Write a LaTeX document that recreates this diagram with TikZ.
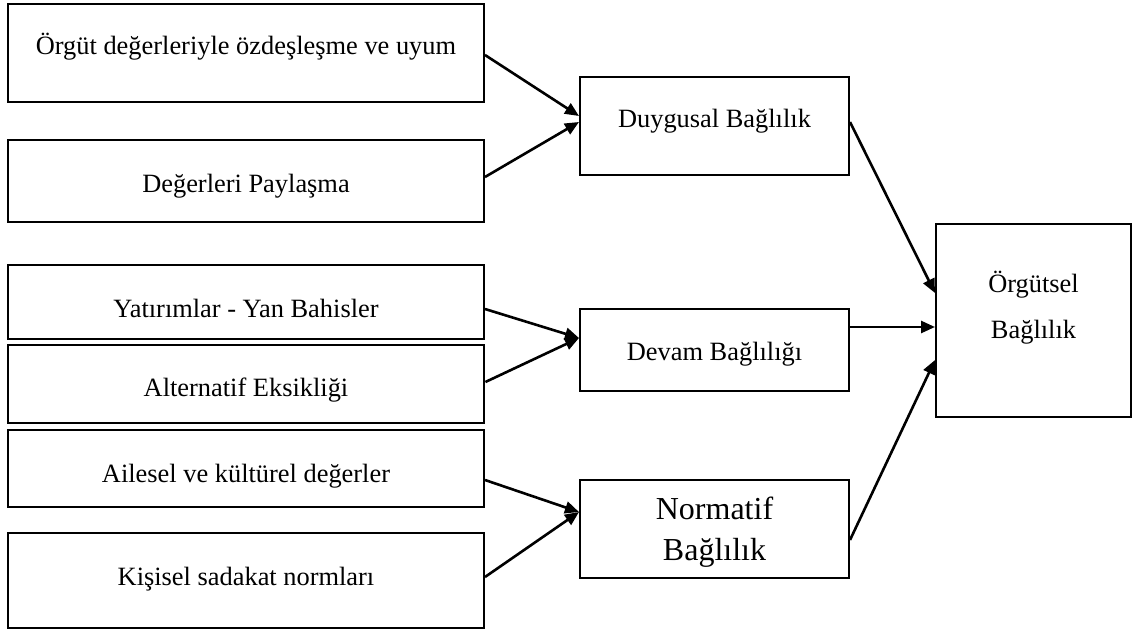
\documentclass[tikz,border=0pt]{standalone}
\usepackage{fontspec}
\setmainfont{Liberation Serif}
\usetikzlibrary{arrows.meta}
\begin{document}
\begin{tikzpicture}[x=1pt,y=-1pt,
  inbox/.style={draw, line width=2pt, inner sep=0pt, minimum width=476pt},
  midbox/.style={draw, line width=2pt, inner sep=0pt, minimum width=269pt},
  outbox/.style={draw, line width=2pt, inner sep=0pt, minimum width=195pt, minimum height=193pt},
  lbl/.style={anchor=base, inner sep=0pt, font=\fontsize{26.4}{30}\selectfont},
  biglbl/.style={anchor=base, inner sep=0pt, font=\fontsize{32}{38}\selectfont},
  conn/.style={line width=2.6pt, -{Triangle[length=14pt,width=12pt]}}
]
\useasboundingbox (0,0) rectangle (1133,634);
% input boxes
\node[inbox, minimum height=98pt] (b1) at (246,53) {};
\node[inbox, minimum height=82pt] (b2) at (246,181) {};
\node[inbox, minimum height=74pt] (b3) at (246,302) {};
\node[inbox, minimum height=78pt, line width=2.8pt] (b4) at (246,384) {};
\node[inbox, minimum height=77pt] (b5) at (246,468.5) {};
\node[inbox, minimum height=95pt] (b6) at (246,580.5) {};
\node[lbl] (t1) at (246,55) {Örgüt değerleriyle özdeşleşme ve uyum};
\node[lbl] (t2) at (246,192) {Değerleri Paylaşma};
\node[lbl] (t3) at (246,317) {Yatırımlar - Yan Bahisler};
\node[lbl] (t4) at (246,396) {Alternatif Eksikliği};
\node[lbl] (t5) at (246,482) {Ailesel ve kültürel değerler};
\node[lbl] (t6) at (246,585) {Kişisel sadakat normları};
% middle boxes
\node[midbox, minimum height=98pt] (duy) at (714.5,126) {};
\node[midbox, minimum height=82pt] (dev) at (714.5,350) {};
\node[midbox, minimum height=98pt] (nor) at (714.5,529) {};
\node[lbl] (tduy) at (714.5,128) {Duygusal Bağlılık};
\node[lbl] (tdev) at (714.5,360) {Devam Bağlılığı};
\node[biglbl] (tnor1) at (714.5,519) {Normatif};
\node[biglbl] (tnor2) at (714.5,560) {Bağlılık};
% output box
\node[outbox] (org) at (1033.5,320.5) {};
\node[lbl] (torg1) at (1033.5,292) {Örgütsel};
\node[lbl] (torg2) at (1033.5,338) {Bağlılık};
% connectors
\draw[conn] ([yshift=-2pt]b1.east) -- ([yshift=10pt]duy.west);
\draw[conn] ([yshift=4pt]b2.east) -- ([yshift=4pt]duy.west);
\draw[conn] ([yshift=-7pt]b3.east) -- ([yshift=12pt]dev.west);
\draw[conn] ([yshift=2pt]b4.east) -- ([yshift=12pt]dev.west);
\draw[conn] ([yshift=-11.5pt]b5.east) -- ([yshift=17pt]nor.west);
\draw[conn] ([yshift=3.5pt]b6.east) -- ([yshift=17pt]nor.west);
\draw[conn] ([yshift=4pt]duy.east) -- ([yshift=27.5pt]org.west);
\draw[conn] ([yshift=23pt]dev.east) -- ([yshift=-6.5pt]org.west);
\draw[conn] ([yshift=-11pt]nor.east) -- ([yshift=-39.5pt]org.west);
\end{tikzpicture}
\end{document}
